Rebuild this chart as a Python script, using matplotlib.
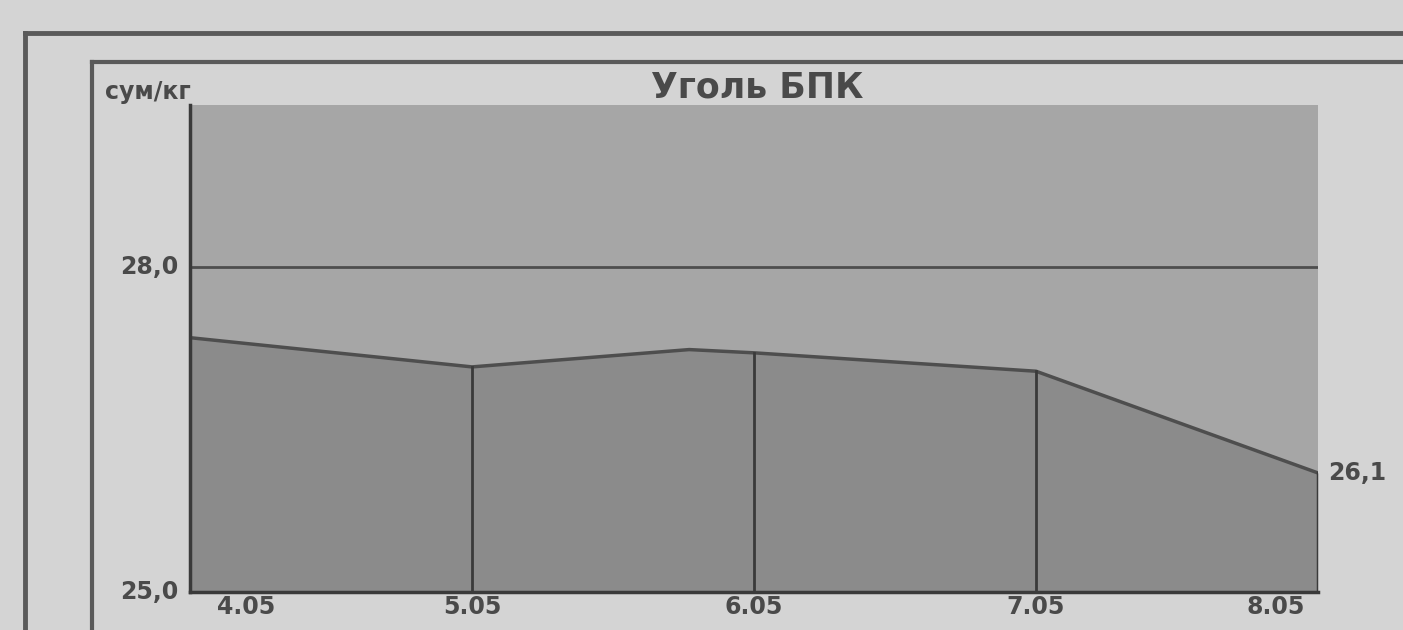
import matplotlib
matplotlib.use("Agg")
import matplotlib.pyplot as plt
from matplotlib.lines import Line2D

# данные: цена угля БПК, сум/кг
dates = ["4.05", "5.05", "6.05", "7.05", "8.05"]
x_pos = [0, 1, 1.77, 2, 3, 4]
prices = [27.35, 27.08, 27.24, 27.21, 27.04, 26.1]
date_idx = [0, 1, 3, 4, 5]   # точки, которые приходятся на даты
ref_level = 28.0
y_min, y_max = 25.0, 29.5

W, H = 1403, 630
bg = "#d4d4d4"
plot_bg = "#a6a6a6"
fill_c = "#8b8b8b"
line_c = "#4e4e4e"
txt_c = "#4a4a4a"

fig = plt.figure(figsize=(W / 100, H / 100), dpi=100, facecolor=bg)

def px(x0, y0, x1, y1):
    return [x0 / W, 1 - y1 / H, (x1 - x0) / W, (y1 - y0) / H]

# рамки вокруг
for (xa, ya, xb, yb, lw) in [(25, 33, W, 33, 3.5), (25, 33, 25, H, 3.5),
                             (92, 62, W, 62, 3), (92, 62, 92, H, 3)]:
    fig.add_artist(Line2D([xa / W, xb / W], [1 - ya / H, 1 - yb / H],
                          color="#5a5a5a", lw=lw, transform=fig.transFigure))

ax = fig.add_axes(px(190, 105, 1318, 592))
ax.set_facecolor(plot_bg)
ax.fill_between(x_pos, prices, y_min, color=fill_c, lw=0)
ax.plot(x_pos, prices, color=line_c, lw=2.5)
ax.axhline(ref_level, color=line_c, lw=2)
for i in date_idx[1:-1]:
    ax.plot([x_pos[i], x_pos[i]], [y_min, prices[i]], color="#3a3a3a", lw=2)
ax.plot([x_pos[-1], x_pos[-1]], [y_min, prices[-1]], color="#3a3a3a", lw=2.5)
ax.set_xlim(0, 4)
ax.set_ylim(y_min, y_max)
for s in ["top", "right"]:
    ax.spines[s].set_visible(False)
ax.spines["left"].set_color("#3a3a3a")
ax.spines["left"].set_linewidth(2.5)
ax.spines["bottom"].set_color("#3a3a3a")
ax.spines["bottom"].set_linewidth(2.5)
ax.set_xticks([])
ax.set_yticks([])

fs = 17
font = dict(color=txt_c, fontsize=fs, fontweight="bold", family="DejaVu Sans")
for v in [y_min, ref_level]:
    ax.text(-0.01, v, f"{v:.1f}".replace(".", ","), ha="right", va="center",
            transform=ax.get_yaxis_transform(), **font)
# подписи дат
offs = [0.2, 0.0, 0.0, 0.0, -0.15]
for k, d in enumerate(dates):
    ax.text(k + offs[k], y_min - 0.03, d, ha="center", va="top", **font)
ax.text(4.035, prices[-1], f"{prices[-1]:.1f}".replace(".", ","),
        ha="left", va="center", **font)

fig.text(105 / W, 1 - 92 / H, "сум/кг", ha="left", va="center", **font)
fig.text(757 / W, 1 - 88 / H, "Уголь БПК", ha="center", va="center",
         color=txt_c, fontsize=25, fontweight="bold", family="DejaVu Sans")

fig.savefig("out.png", dpi=100, facecolor=bg)
